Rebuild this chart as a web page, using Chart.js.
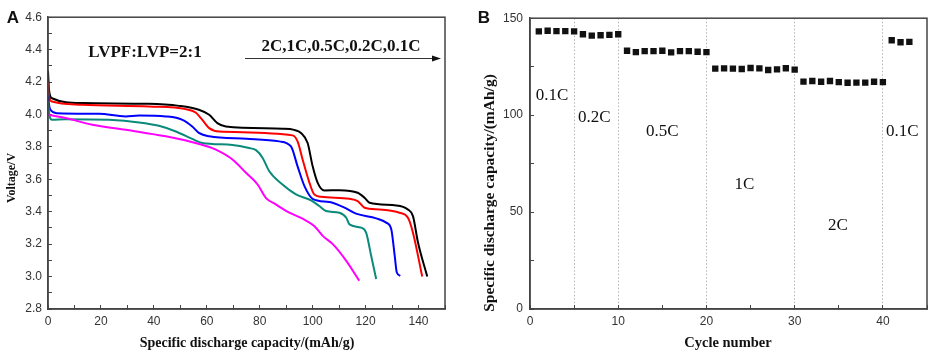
<!DOCTYPE html>
<html>
<head>
<meta charset="utf-8">
<script src="https://cdn.jsdelivr.net/npm/chart.js@4.4.1/dist/chart.umd.min.js"></script>
<style>
  body { margin: 0; background: #fff; width: 941px; height: 360px; overflow: hidden; position: relative; }
  canvas { position: absolute; top: 0; }
  #chartA { left: 0; }
  #chartB { left: 470px; }
</style>
</head>
<body>
<canvas id="chartA" width="470" height="360"></canvas>
<canvas id="chartB" width="471" height="360"></canvas>
<script>
// Panel A: discharge curves at different rates (capacity mAh/g, voltage V)
const cap01C = [0, 0.4, 1.5, 12.9, 38, 49.5, 57, 60.9, 64, 67.2, 88.6, 93, 95.6, 98.1, 100, 101.9, 104.4, 110.1, 117, 119.6, 121.5, 131.6, 136, 137.9, 139.8, 143.3];
const volt01C = [4.27, 4.15, 4.10, 4.07, 4.066, 4.053, 4.029, 3.998, 3.947, 3.926, 3.912, 3.905, 3.886, 3.824, 3.68, 3.578, 3.531, 3.533, 3.517, 3.486, 3.455, 3.439, 3.414, 3.373, 3.21, 3.0];

const cap02C = [0, 0.5, 1.5, 12.9, 38.2, 52, 55.8, 58.3, 60.9, 64.7, 92.4, 94.3, 96.2, 98.8, 100.6, 103.2, 113.9, 117, 119.6, 125.3, 132.8, 136, 137.9, 141.4];
const volt02C = [4.2, 4.1, 4.08, 4.06, 4.049, 4.033, 4.012, 3.967, 3.916, 3.895, 3.871, 3.834, 3.722, 3.578, 3.507, 3.492, 3.48, 3.466, 3.425, 3.414, 3.394, 3.363, 3.271, 3.0];

const cap05C = [0, 0.5, 0.9, 3.4, 19.2, 29.3, 34.4, 44.5, 50.8, 54.5, 57, 60.9, 75, 87.4, 91.8, 94.3, 96.9, 100, 106.3, 112, 116.4, 124, 127.8, 129.7, 131, 131.8, 133.1];
const volt05C = [4.12, 4.05, 4.029, 4.008, 4.004, 3.988, 3.994, 3.988, 3.967, 3.926, 3.886, 3.865, 3.85, 3.834, 3.803, 3.68, 3.558, 3.48, 3.46, 3.425, 3.388, 3.359, 3.333, 3.292, 3.128, 3.025, 3.005];

const cap1C = [0, 0.6, 1.5, 6.6, 23, 34.4, 41.9, 48.3, 54.5, 58.3, 69.7, 76, 78.6, 81.1, 83.6, 88.6, 93.7, 99.4, 102.5, 105.1, 110.1, 112.7, 113.9, 118.3, 120.2, 122.1, 124];
const volt1C = [4.08, 3.99, 3.967, 3.971, 3.967, 3.951, 3.93, 3.895, 3.849, 3.824, 3.812, 3.793, 3.78, 3.732, 3.65, 3.568, 3.507, 3.47, 3.435, 3.404, 3.394, 3.363, 3.322, 3.302, 3.271, 3.128, 2.985];

const cap2C = [0, 6.6, 16.7, 31.8, 44.5, 57.1, 63.4, 69.7, 74.8, 79.2, 82.3, 86.1, 91.2, 96.2, 100.6, 103.8, 107.6, 112.7, 117.6];
const volt2C = [3.998, 3.978, 3.937, 3.9, 3.865, 3.818, 3.783, 3.722, 3.64, 3.568, 3.486, 3.445, 3.394, 3.357, 3.312, 3.251, 3.2, 3.097, 2.974];

// Panel B: rate capability
const cycles = [1, 2, 3, 4, 5, 6, 7, 8, 9, 10, 11, 12, 13, 14, 15, 16, 17, 18, 19, 20, 21, 22, 23, 24, 25, 26, 27, 28, 29, 30, 31, 32, 33, 34, 35, 36, 37, 38, 39, 40, 41, 42, 43];
const capacityB = [143.2, 143.5, 143.3, 143.3, 143.2, 141.7, 141, 141.2, 141.4, 141.7,
  133.2, 132.5, 133, 133, 133.2, 132.4, 133, 133, 132.7, 132.5,
  124, 124.1, 124, 123.8, 124.3, 124.1, 123.3, 123.6, 124.2, 123.5,
  117.3, 117.6, 117.2, 117.6, 117, 116.7, 116.8, 116.8, 117.2, 117,
  138.6, 137.6, 137.8];
const rateBreaks = [5, 10, 20, 30, 40];
const rateNames = ['0.1C', '0.2C', '0.5C', '1C', '2C', '0.1C'];

const pts = (xs, ys) => xs.map((x, i) => ({ x: x, y: ys[i] }));
const tickFont = { family: 'Liberation Sans', size: 12 };
const axisColor = '#444';

function frame(chart) {
  const a = chart.chartArea, c = chart.ctx;
  c.save();
  c.strokeStyle = axisColor;
  c.lineWidth = 1.5;
  c.strokeRect(a.left, a.top, a.right - a.left, a.bottom - a.top);
  c.restore();
}

const panelAText = {
  id: 'panelAText',
  afterDraw(chart) {
    frame(chart);
    const c = chart.ctx;
    c.save();
    c.fillStyle = '#111';
    c.textAlign = 'center';
    c.textBaseline = 'middle';
    c.font = 'bold 17px "Liberation Sans"';
    c.fillText('A', 13, 18);
    c.font = 'bold 17px "Liberation Serif"';
    c.fillText('LVPF:LVP=2:1', 145, 53);
    c.fillText('2C,1C,0.5C,0.2C,0.1C', 341, 47);
    c.strokeStyle = '#333';
    c.lineWidth = 1;
    c.beginPath(); c.moveTo(245, 58.5); c.lineTo(436, 58.5); c.stroke();
    c.beginPath(); c.moveTo(441, 58.5); c.lineTo(432, 55.5); c.lineTo(432, 61.5); c.closePath(); c.fill();
    c.font = 'bold 14px "Liberation Serif"';
    c.fillText('Specific discharge capacity/(mAh/g)', 247, 343);
    c.translate(12, 178);
    c.rotate(-Math.PI / 2);
    c.font = 'bold 12px "Liberation Serif"';
    c.fillText('Voltage/V', 0, 0);
    c.restore();
  }
};

const panelBText = {
  id: 'panelBText',
  afterDraw(chart) {
    frame(chart);
    const c = chart.ctx, xs = chart.scales.x, ys = chart.scales.y;
    const anchors = [[2.5, 110], [7.3, 99], [15, 91.3], [24.3, 64.3], [34.9, 42.9], [42.2, 91.3]];
    c.save();
    c.fillStyle = '#111';
    c.textAlign = 'center';
    c.textBaseline = 'middle';
    c.font = 'bold 17px "Liberation Sans"';
    c.fillText('B', 14, 18);
    c.font = '17px "Liberation Serif"';
    rateNames.forEach((t, i) => {
      c.fillText(t, xs.getPixelForValue(anchors[i][0]), ys.getPixelForValue(anchors[i][1]));
    });
    c.font = 'bold 14.5px "Liberation Serif"';
    c.fillText('Cycle number', 258, 343);
    c.translate(20, 193);
    c.rotate(-Math.PI / 2);
    c.font = 'bold 15.5px "Liberation Serif"';
    c.fillText('Specific discharge capacity/(mAh/g)', 0, 0);
    c.restore();
  }
};

new Chart(document.getElementById('chartA'), {
  type: 'line',
  data: {
    datasets: [
      { data: pts(cap2C, volt2C), borderColor: '#ff00ff' },
      { data: pts(cap1C, volt1C), borderColor: '#0a8a7a' },
      { data: pts(cap05C, volt05C), borderColor: '#0000ff' },
      { data: pts(cap02C, volt02C), borderColor: '#ff0000' },
      { data: pts(cap01C, volt01C), borderColor: '#000000' }
    ]
  },
  options: {
    responsive: false,
    animation: false,
    devicePixelRatio: 1,
    layout: { padding: { top: 17, right: 25, left: 0, bottom: 0 } },
    plugins: { legend: { display: false }, tooltip: { enabled: false } },
    elements: {
      point: { radius: 0 },
      line: { borderWidth: 2, cubicInterpolationMode: 'monotone', fill: false }
    },
    scales: {
      x: {
        type: 'linear', min: 0, max: 150,
        afterFit: s => { s.height = 51; },
        ticks: { stepSize: 10, autoSkip: false, maxRotation: 0, padding: 9, color: '#333', font: tickFont,
          callback: v => (v % 20 === 0 && v < 150) ? String(v) : '' },
        grid: { drawOnChartArea: false, tickLength: -4, tickColor: axisColor },
        border: { color: axisColor, width: 1.5 }
      },
      y: {
        min: 2.8, max: 4.6,
        afterFit: s => { s.width = 48; },
        ticks: { stepSize: 0.1, autoSkip: false, padding: 10, color: '#333', font: tickFont,
          callback: v => Math.round(v * 10) % 2 === 0 ? v.toFixed(1) : '' },
        grid: { drawOnChartArea: false, tickLength: -4, tickColor: axisColor },
        border: { color: axisColor, width: 1.5 }
      }
    }
  },
  plugins: [panelAText]
});

new Chart(document.getElementById('chartB'), {
  type: 'scatter',
  data: {
    datasets: [{
      data: pts(cycles, capacityB),
      pointStyle: 'rect',
      pointRadius: 4.5,
      backgroundColor: '#111',
      borderWidth: 0,
      showLine: false
    }]
  },
  options: {
    responsive: false,
    animation: false,
    devicePixelRatio: 1,
    layout: { padding: { top: 17, right: 14, left: 0, bottom: 0 } },
    plugins: { legend: { display: false }, tooltip: { enabled: false } },
    scales: {
      x: {
        type: 'linear', min: 0, max: 45,
        afterFit: s => { s.height = 51; },
        ticks: { stepSize: 5, autoSkip: false, maxRotation: 0, padding: 9, color: '#333', font: tickFont,
          callback: v => v % 10 === 0 ? String(v) : '' },
        grid: {
          drawOnChartArea: true, tickLength: -4, tickColor: axisColor, lineWidth: 1,
          color: ctx => (ctx.tick && rateBreaks.includes(ctx.tick.value)) ? '#b5b5b5' : 'rgba(0,0,0,0)'
        },
        border: { color: axisColor, width: 1.5, dash: [1.5, 2] }
      },
      y: {
        min: 0, max: 150,
        afterFit: s => { s.width = 60; },
        ticks: { stepSize: 25, autoSkip: false, padding: 11, color: '#333', font: tickFont,
          callback: v => v % 50 === 0 ? String(v) : '' },
        grid: { drawOnChartArea: false, tickLength: -4, tickColor: axisColor },
        border: { color: axisColor, width: 1.5 }
      }
    }
  },
  plugins: [panelBText]
});
</script>
</body>
</html>
